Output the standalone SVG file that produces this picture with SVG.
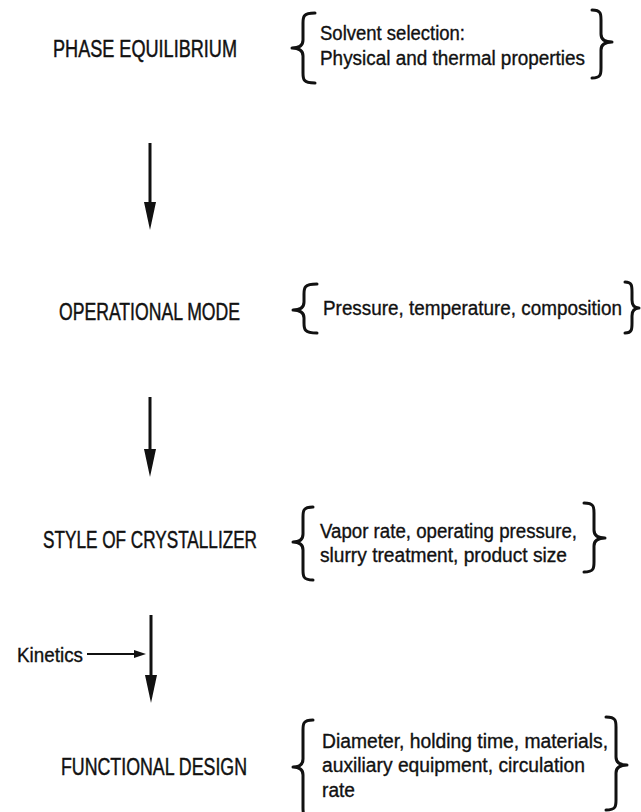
<svg xmlns="http://www.w3.org/2000/svg" width="641" height="812" viewBox="0 0 641 812">
<defs>
<style>
.lbl{font-family:"Liberation Sans",Arial,sans-serif;font-size:23px;fill:#111;stroke:#111;stroke-width:0.45;}
.txt{font-family:"Liberation Sans",Arial,sans-serif;font-size:20px;fill:#111;stroke:#111;stroke-width:0.35;}
.brace{fill:none;stroke:#111;stroke-width:3;stroke-linecap:round;stroke-linejoin:round;}
.flow{stroke:#111;stroke-width:3;fill:none;}
.side{stroke:#111;stroke-width:2;fill:none;}
</style>
<marker id="head" markerUnits="userSpaceOnUse" markerWidth="28" markerHeight="12" viewBox="0 0 28 12" refX="18" refY="6" orient="auto">
<path d="M0,0 L28,6 L0,12 z" fill="#111"/>
</marker>
<marker id="headSmall" markerUnits="userSpaceOnUse" markerWidth="12" markerHeight="8" viewBox="0 0 12 8" refX="8" refY="4" orient="auto">
<path d="M0,0 L12,4 L0,8 z" fill="#111"/>
</marker>
</defs>
<rect width="641" height="812" fill="#fff"/>

<g id="phase-equilibrium">
<text class="lbl" x="53" y="57" textLength="184" lengthAdjust="spacingAndGlyphs">PHASE EQUILIBRIUM</text>
<path class="brace" d="M315,13 C303,13 303,17 303,23 L303,40 C303,45 300,48 292,48 C300,48 303,51 303,56 L303,73 C303,79 303,83 315,83"/>
<text class="txt" x="320" y="40" textLength="145" lengthAdjust="spacingAndGlyphs">Solvent selection:</text>
<text class="txt" x="320" y="65" textLength="265" lengthAdjust="spacingAndGlyphs">Physical and thermal properties</text>
<path class="brace" d="M592,10 C601,10 601,14 601,20 L601,34 C601,39 604,42 612,42 C604,42 601,45 601,50 L601,68 C601,74 601,78 592,78"/>
</g>

<g id="operational-mode">
<text class="lbl" x="59" y="320" textLength="181" lengthAdjust="spacingAndGlyphs">OPERATIONAL MODE</text>
<path class="brace" d="M317,284 C304,284 304,288 304,294 L304,302 C304,307 301,310 293,310 C301,310 304,313 304,318 L304,323 C304,329 304,333 317,333"/>
<text class="txt" x="323" y="315" textLength="299" lengthAdjust="spacingAndGlyphs">Pressure, temperature, composition</text>
<path class="brace" d="M625,282 C632,282 632,286 632,292 L632,300 C632,305 634,308 639,308 C634,308 632,311 632,316 L632,323 C632,329 632,333 625,333"/>
</g>

<g id="style-of-crystallizer">
<text class="lbl" x="43" y="548" textLength="214" lengthAdjust="spacingAndGlyphs">STYLE OF CRYSTALLIZER</text>
<path class="brace" d="M313,507 C303,507 303,511 303,517 L303,534 C303,539 300,542 293,542 C300,542 303,545 303,550 L303,570 C303,576 303,580 313,580"/>
<text class="txt" x="320" y="538" textLength="257" lengthAdjust="spacingAndGlyphs">Vapor rate, operating pressure,</text>
<text class="txt" x="320" y="562" textLength="247" lengthAdjust="spacingAndGlyphs">slurry treatment, product size</text>
<path class="brace" d="M584,503 C594,503 594,507 594,513 L594,530 C594,535 597,538 605,538 C597,538 594,541 594,546 L594,562 C594,568 594,572 584,572"/>
</g>

<g id="kinetics">
<text class="txt" x="17" y="662" textLength="66" lengthAdjust="spacingAndGlyphs">Kinetics</text>
</g>

<g id="functional-design">
<text class="lbl" x="61" y="775" textLength="186" lengthAdjust="spacingAndGlyphs">FUNCTIONAL DESIGN</text>
<path class="brace" d="M313,720 C303,720 303,724 303,730 L303,759 C303,764 300,767 293,767 C300,767 303,770 303,775 L303,808 C303,814 303,818 313,818"/>
<text class="txt" x="322" y="748" textLength="286" lengthAdjust="spacingAndGlyphs">Diameter, holding time, materials,</text>
<text class="txt" x="322" y="772" textLength="263" lengthAdjust="spacingAndGlyphs">auxiliary equipment, circulation</text>
<text class="txt" x="322" y="797" textLength="33" lengthAdjust="spacingAndGlyphs">rate</text>
<path class="brace" d="M606,717 C616,717 616,721 616,727 L616,757 C616,762 619,765 627,765 C619,765 616,768 616,773 L616,800 C616,806 616,810 606,810"/>
</g>

<g id="connectors">
<line class="flow" x1="150" y1="143" x2="150" y2="220" marker-end="url(#head)"/>
<line class="flow" x1="150" y1="397" x2="150" y2="467" marker-end="url(#head)"/>
<line class="flow" x1="151" y1="615" x2="151" y2="693" marker-end="url(#head)"/>
<line class="side" x1="87" y1="654" x2="142" y2="654" marker-end="url(#headSmall)"/>
</g>
</svg>
